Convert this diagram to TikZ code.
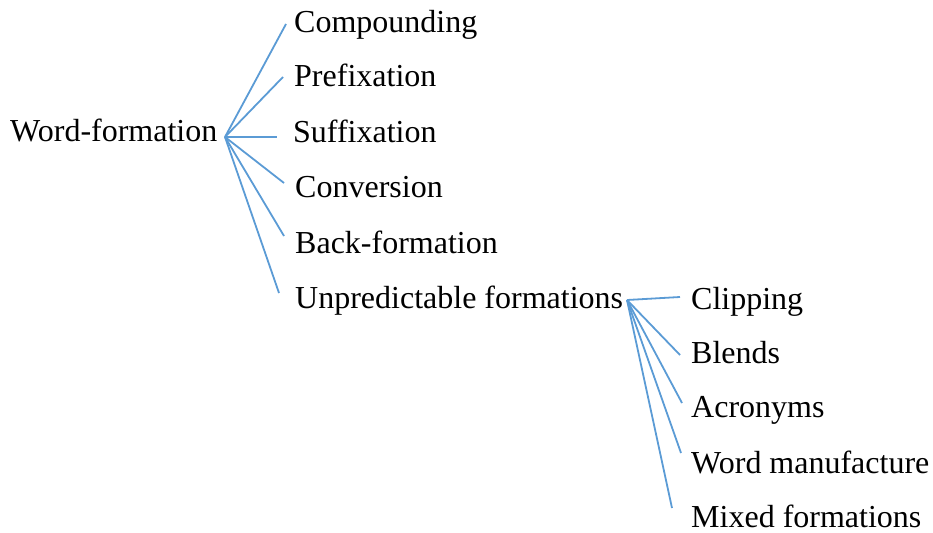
\documentclass[tikz,border=0pt]{standalone}
\usepackage{fontspec}
\setmainfont{Liberation Serif}
\begin{document}
\begin{tikzpicture}[x=1pt,y=-1pt,
  lbl/.style={anchor=base west,inner sep=0pt,font=\fontsize{32}{38}\selectfont},
  branch/.style={draw=linkblue,line width=1.8pt}]
\definecolor{linkblue}{RGB}{91,155,213}
\useasboundingbox (0,0) rectangle (933,532);
% labels
\node[lbl] (wf) at (10,141) {Word-formation};
\node[lbl] (comp) at (294,33) {Compounding};
\node[lbl] (pref) at (294,87) {Prefixation};
\node[lbl] (suff) at (293,142) {Suffixation};
\node[lbl] (conv) at (295,197) {Conversion};
\node[lbl] (back) at (295,253) {Back-formation};
\node[lbl] (unpr) at (295,308) {Unpredictable formations};
\node[lbl] (clip) at (691,309) {Clipping};
\node[lbl] (blen) at (691,363) {Blends};
\node[lbl] (acro) at (691,417) {Acronyms};
\node[lbl] (wman) at (691,473) {Word manufacture};
\node[lbl] (mixd) at (691,527) {Mixed formations};
% hubs and line ends
\coordinate (h1) at (225,137);
\coordinate (e1) at (286,24);
\coordinate (e2) at (283,77);
\coordinate (e3) at (277,137);
\coordinate (e4) at (284,183);
\coordinate (e5) at (284,236);
\coordinate (e6) at (279,293);
\coordinate (h2) at (627,300);
\coordinate (f1) at (680,297);
\coordinate (f2) at (680,355);
\coordinate (f3) at (682,403);
\coordinate (f4) at (681,453);
\coordinate (f5) at (672,508);
% connectors
\foreach \e in {e1,e2,e3,e4,e5,e6} \draw[branch] (h1) -- (\e);
\foreach \f in {f1,f2,f3,f4,f5} \draw[branch] (h2) -- (\f);
\end{tikzpicture}
\end{document}
